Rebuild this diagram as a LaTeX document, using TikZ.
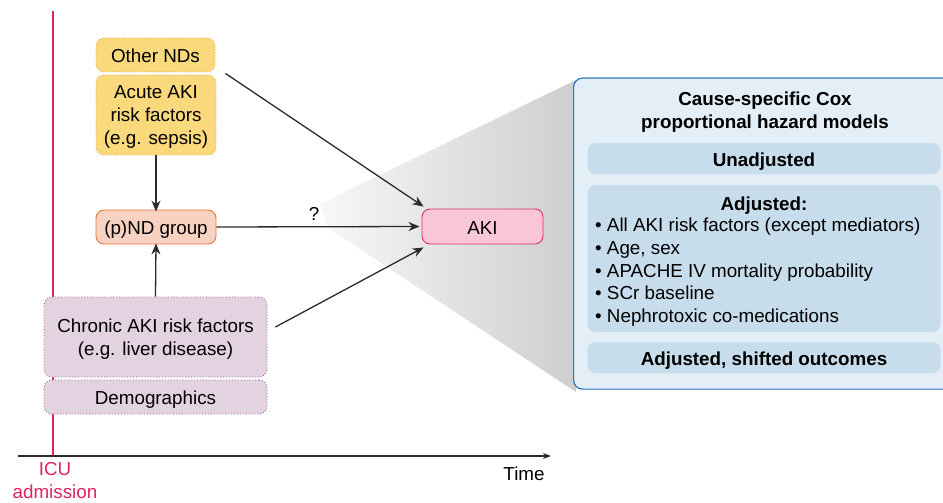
\documentclass[tikz,border=0pt]{standalone}
\usepackage{fontspec}
\setmainfont{Liberation Sans}
\usetikzlibrary{arrows.meta,calc}
\definecolor{icured}{HTML}{E0245E}
\definecolor{yelfill}{HTML}{FAD87C}
\definecolor{yelline}{HTML}{F0A040}
\definecolor{salfill}{HTML}{F8D2C0}
\definecolor{salline}{HTML}{E8743C}
\definecolor{purfill}{HTML}{E3D3E0}
\definecolor{purline}{HTML}{9A5A90}
\definecolor{pinkfill}{HTML}{F8C6D8}
\definecolor{pinkline}{HTML}{DC2E64}
\definecolor{panfill}{HTML}{E3EEF6}
\definecolor{panline}{HTML}{2F74B5}
\definecolor{subfill}{HTML}{C8DDEC}
\definecolor{darkln}{HTML}{2B2B2B}
\tikzset{
  txt/.style={font=\fontsize{18.8}{23}\selectfont, align=center, inner sep=0pt},
  one/.style={text height=15pt, text depth=0pt},
  bx/.style={txt, rounded corners=8pt, line width=0.9pt},
  yelbox/.style={bx, fill=yelfill, draw=yelline, dotted},
  salbox/.style={bx, fill=salfill, draw=salline},
  purbox/.style={bx, fill=purfill, draw=purline, dotted},
  pinkbox/.style={bx, fill=pinkfill, draw=pinkline},
  subbox/.style={txt, font=\fontsize{18.8}{23}\selectfont\bfseries, fill=subfill, rounded corners=8pt, minimum width=353pt},
  arr/.style={draw=darkln, line width=1.3pt, -{Stealth[length=11pt,width=9pt]}}
}
\begin{document}
\begin{tikzpicture}[x=1pt,y=-1pt]
\useasboundingbox (0,0) rectangle (943,503);
% time axis and ICU line
\coordinate (ax0) at (18,456);
\coordinate (ax1) at (551,456);
\coordinate (icutop) at (53,11);
\coordinate (icubot) at (53,456);
\draw[icured, line width=2pt] (icutop) -- (icubot);
\draw[draw=darkln, line width=1.2pt, -{Stealth[length=8pt,width=6pt]}] (ax0) -- (ax1);
\node[txt, anchor=center] (time) at (524,474) {Time};
\node[txt, text=icured] (icu) at (55,481) {ICU\\admission};
% wedge
\shade[left color=gray!6, right color=gray!38] (320,204) -- (576,80) -- (576,392) -- (328,228) -- cycle;
% panel
\node[draw=panline, fill=panfill, line width=1.2pt, rounded corners=9pt, minimum width=385pt, minimum height=311pt, anchor=north west, inner sep=0pt] (panel) at (573,77.5) {};
\node[txt, font=\fontsize{18.8}{23}\selectfont\bfseries] (title) at (765,112) {Cause-specific Cox\\proportional hazard models};
\node[subbox, one, minimum height=31pt] (unadj) at (764,158.5) {Unadjusted};
\node[subbox, minimum height=147pt] (adj) at (764,258.5) {};
\node[txt, one, font=\fontsize{18.8}{23}\selectfont\bfseries] (adjt) at (764,203) {Adjusted:};
\node[txt, align=left, anchor=north west, font=\fontsize{18.8}{22.6}\selectfont] (adjlist) at (595,218) {%
\textbullet\ All AKI risk factors (except mediators)\\
\textbullet\ Age, sex\\
\textbullet\ APACHE IV mortality probability\\
\textbullet\ SCr baseline\\
\textbullet\ Nephrotoxic co-medications};
\node[subbox, one, minimum height=31pt] (shift) at (764,357.5) {Adjusted, shifted outcomes};
% left boxes
\node[yelbox, one, minimum width=119pt, minimum height=34pt] (ond) at (155.5,55) {Other NDs};
\node[yelbox, minimum width=120pt, minimum height=80pt] (acute) at (156,115) {};
\node[txt] (acutet) at (156,117) {Acute AKI\\risk factors\\(e.g. sepsis)};
\node[salbox, one, minimum width=120pt, minimum height=34pt] (pnd) at (156,227) {(p)ND group};
\node[purbox, minimum width=223pt, minimum height=80pt] (chronic) at (155.5,337) {};
\node[txt] (chronict) at (155.5,339.5) {Chronic AKI risk factors\\(e.g. liver disease)};
\node[purbox, one, minimum width=223pt, minimum height=34pt] (demo) at (155.5,397) {Demographics};
\node[pinkbox, one, minimum width=121pt, minimum height=35pt] (aki) at (482.5,226.5) {AKI};
% arrows
\draw[arr] ([xshift=10pt,yshift=-1pt]ond.south east) -- ([xshift=2pt,yshift=2pt]aki.north west);
\draw[arr] (acute.south) -- ([yshift=-2pt]pnd.north);
\draw[arr] (chronic.north) -- ([yshift=1pt]pnd.south);
\draw[arr] (pnd.east) -- ([xshift=-2pt]aki.west);
\draw[arr] ([xshift=8pt,yshift=10pt]chronic.east) -- ([xshift=2pt,yshift=-3pt]aki.south west);
\node[txt] (q) at (314,214) {?};
\end{tikzpicture}
\end{document}
